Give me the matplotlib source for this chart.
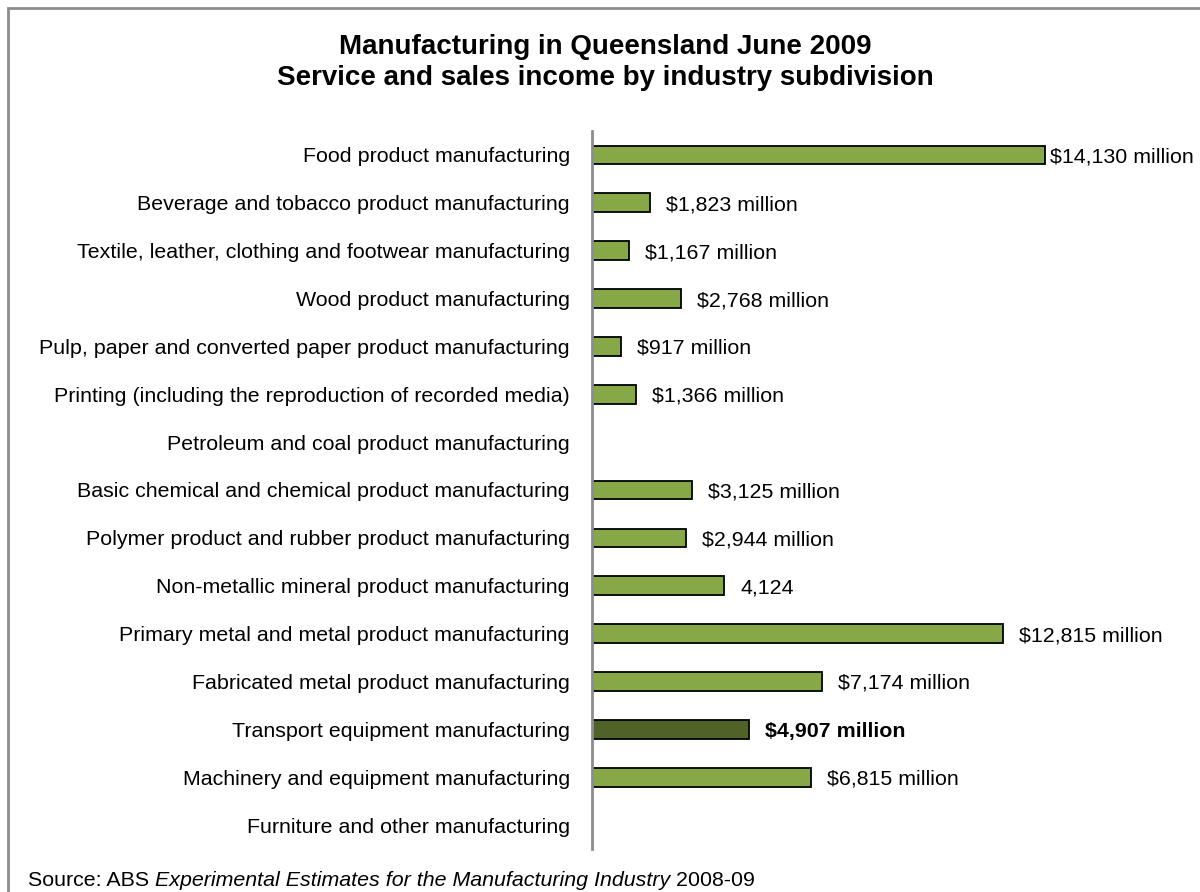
#!/usr/bin/env python

import numpy as np
import matplotlib.pyplot as plt
from matplotlib.patches import Rectangle

industries = [
    'Food product manufacturing',
    'Beverage and tobacco product manufacturing',
    'Textile, leather, clothing and footwear manufacturing',
    'Wood product manufacturing',
    'Pulp, paper and converted paper product manufacturing',
    'Printing (including the reproduction of recorded media)',
    'Petroleum and coal product manufacturing',
    'Basic chemical and chemical product manufacturing',
    'Polymer product and rubber product manufacturing',
    'Non-metallic mineral product manufacturing',
    'Primary metal and metal product manufacturing',
    'Fabricated metal product manufacturing',
    'Transport equipment manufacturing',
    'Machinery and equipment manufacturing',
    'Furniture and other manufacturing',
]
# $ million; np.nan where no figure is published
income = [14130, 1823, 1167, 2768, 917, 1366, np.nan, 3125, 2944,
          4124, 12815, 7174, 4907, 6815, np.nan]
value_labels = ['$14,130 million', '$1,823 million', '$1,167 million',
                '$2,768 million', '$917 million', '$1,366 million', '',
                '$3,125 million', '$2,944 million', '4,124',
                '$12,815 million', '$7,174 million', '$4,907 million',
                '$6,815 million', '']
highlight = 'Transport equipment manufacturing'

plt.rcParams['font.family'] = ['Liberation Sans', 'DejaVu Sans']
FS = 15.4

fig = plt.figure( figsize = ( 12, 8.92 ), dpi = 100 )
W, H = 1200., 892.

# outer chart frame
fig.patches.append( Rectangle( ( 8/W, -0.1 ), 1.2, 1 - 8/H + 0.1, transform = fig.transFigure,
                               fill = False, edgecolor = '#8c8c8c', linewidth = 2 ) )

ax = fig.add_axes( [ 592/W, 1 - 849/H, ( 1150 - 592 )/W, ( 849 - 131 )/H ] )

y = np.arange( len( industries ) )
colors = [ '#4f6228' if name == highlight else '#86a846' for name in industries ]
ax.barh( y, np.nan_to_num( income ), height = 0.39, color = colors,
         edgecolor = 'black', linewidth = 1.3, zorder = 2 )

for i, ( v, lab ) in enumerate( zip( income, value_labels ) ):
    if np.isnan( v ):
        continue
    off = 5 if v > 14000 else 16
    ax.annotate( lab, ( v, i ), xytext = ( off * 0.72, 0 ), textcoords = 'offset points',
                 va = 'center_baseline', ha = 'left', fontsize = FS,
                 fontweight = 'bold' if industries[i] == highlight else 'normal' )

ax.set_xlim( 0, 17400 )
ax.set_ylim( len( industries ) - 0.5, -0.5 )
ax.set_yticks( y )
ax.set_yticklabels( industries, fontsize = FS, va = 'center_baseline' )
ax.tick_params( axis = 'y', length = 0, pad = 16 )
ax.set_xticks( [] )
for side in [ 'top', 'right', 'bottom' ]:
    ax.spines[ side ].set_visible( False )
ax.spines[ 'left' ].set_color( '#8c8c8c' )
ax.spines[ 'left' ].set_linewidth( 2 )

fig.text( 605/W, 1 - 47/H, 'Manufacturing in Queensland June 2009', ha = 'center', va = 'center',
          fontsize = 20, fontweight = 'bold' )
fig.text( 605/W, 1 - 78/H, 'Service and sales income by industry subdivision', ha = 'center', va = 'center',
          fontsize = 20, fontweight = 'bold' )

# source line with italic title in the middle
fig.canvas.draw()
r = fig.canvas.get_renderer()
x = 28/W
for part, style in [ ( 'Source: ABS ', 'normal' ),
                     ( 'Experimental Estimates for the Manufacturing Industry', 'italic' ),
                     ( ' 2008-09', 'normal' ) ]:
    t = fig.text( x, 1 - 880/H, part, fontsize = FS, style = style, va = 'center', ha = 'left' )
    bb = t.get_window_extent( renderer = r )
    x += bb.width / W

plt.savefig( 'out.png', dpi = 100 )
plt.close()
